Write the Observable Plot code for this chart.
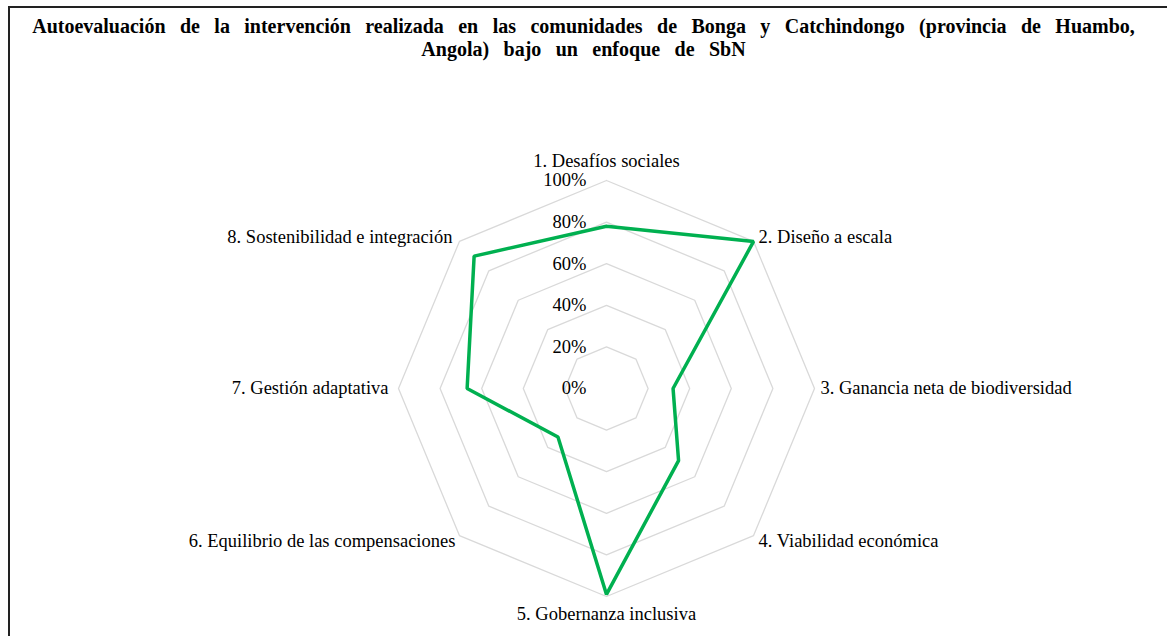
<!DOCTYPE html>
<html>
<head>
<meta charset="utf-8">
<script src="https://cdn.jsdelivr.net/npm/d3@7"></script>
<script src="https://cdn.jsdelivr.net/npm/@observablehq/plot@0.6"></script>
<style>
  html, body { margin: 0; padding: 0; background: #fff; }
  #wrap { position: relative; width: 1167px; height: 636px; overflow: hidden; background: #fff; }
  #frame { position: absolute; left: 8px; top: 6px; width: 1200px; height: 700px; border-left: 2px solid #222; border-top: 2px solid #222; box-sizing: border-box; }
  #title { position: absolute; left: 10px; top: 15px; width: 1147px; text-align: center; font-family: "Liberation Serif", "Times New Roman", serif; font-weight: bold; font-size: 20px; line-height: 23px; word-spacing: 9.4px; color: #000; }
  #chart { position: absolute; left: 0; top: 0; }
</style>
</head>
<body>
<div id="wrap">
  <div id="frame"></div>
  <div id="title">Autoevaluación de la intervención realizada en las comunidades de Bonga y Catchindongo (provincia de Huambo,<br>Angola) bajo un enfoque de SbN</div>
  <div id="chart"></div>
</div>
<script>
const categories = [
  "1. Desafíos sociales",
  "2. Diseño a escala",
  "3. Ganancia neta de biodiversidad",
  "4. Viabilidad económica",
  "5. Gobernanza inclusiva",
  "6. Equilibrio de las compensaciones",
  "7. Gestión adaptativa",
  "8. Sostenibilidad e integración"
];
const values = [0.78, 1.00, 0.32, 0.49, 0.99, 0.33, 0.67, 0.90];
const ringLevels = [0.2, 0.4, 0.6, 0.8, 1.0];
const tickLevels = [0, 0.2, 0.4, 0.6, 0.8, 1.0];
const tickLabels = ["0%", "20%", "40%", "60%", "80%", "100%"];

const n = categories.length;
const ang = i => (2 * Math.PI * i) / n;
const px = (i, r) => r * Math.sin(ang(i));
const py = (i, r) => r * Math.cos(ang(i));

const rings = ringLevels.flatMap(r => d3.range(n + 1).map(k => ({ r, x: px(k % n, r), y: py(k % n, r) })));
const series = d3.range(n + 1).map(k => ({ x: px(k % n, values[k % n]), y: py(k % n, values[k % n]) }));
const ticks = tickLevels.map((r, i) => ({ x: 0, y: r, label: tickLabels[i] }));
const labels = categories.map((c, i) => ({ c, i, x: px(i, 1), y: py(i, 1) }));

const font = "Liberation Serif, Times New Roman, serif";
const common = { fontFamily: font, fontSize: 18.5, fill: "#000" };

const chart = Plot.plot({
  width: 1167,
  height: 636,
  margin: 0,
  style: { background: "transparent", fontFamily: font },
  x: { domain: [-1, 1], range: [398, 814], axis: null },
  y: { domain: [-1, 1], range: [596, 180], axis: null },
  marks: [
    Plot.line(rings, { x: "x", y: "y", z: "r", stroke: "#d9d9d9", strokeWidth: 1.3, curve: "linear" }),
    Plot.line(series, { x: "x", y: "y", stroke: "#00b050", strokeWidth: 3.5, strokeLinejoin: "miter", curve: "linear" }),
    Plot.text(ticks, { x: "x", y: "y", text: "label", textAnchor: "end", dx: -20, ...common }),
    Plot.text(labels.filter(d => d.i === 0), { x: "x", y: "y", text: "c", textAnchor: "middle", dy: -19, ...common }),
    Plot.text(labels.filter(d => d.i === 4), { x: "x", y: "y", text: "c", textAnchor: "middle", dy: 18, ...common }),
    Plot.text(labels.filter(d => d.i === 2), { x: "x", y: "y", text: "c", textAnchor: "start", dx: 6, ...common }),
    Plot.text(labels.filter(d => d.i === 6), { x: "x", y: "y", text: "c", textAnchor: "end", dx: -10, ...common }),
    Plot.text(labels.filter(d => d.i === 1), { x: "x", y: "y", text: "c", textAnchor: "start", dx: 5, dy: -4, ...common }),
    Plot.text(labels.filter(d => d.i === 3), { x: "x", y: "y", text: "c", textAnchor: "start", dx: 5, dy: 5, ...common }),
    Plot.text(labels.filter(d => d.i === 5), { x: "x", y: "y", text: "c", textAnchor: "end", dx: -4, dy: 5, ...common }),
    Plot.text(labels.filter(d => d.i === 7), { x: "x", y: "y", text: "c", textAnchor: "end", dx: -7, dy: -4, ...common })
  ]
});
document.getElementById("chart").appendChild(chart);
</script>
</body>
</html>
